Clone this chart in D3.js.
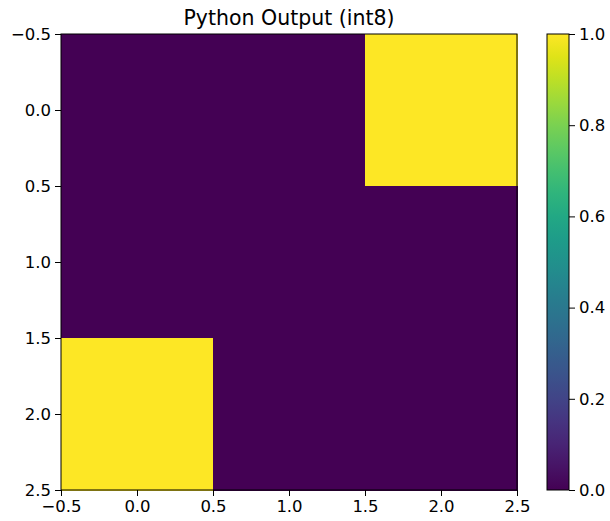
<!DOCTYPE html>
<html>
<head>
<meta charset="utf-8">
<script src="https://cdn.jsdelivr.net/npm/d3@7"></script>
<style>
  body { margin: 0; background: #fff; }
  text { font-family: "DejaVu Sans", sans-serif; fill: #000; }
</style>
</head>
<body>
<div id="chart"></div>
<script>
var width = 610;
var height = 521;

var title = "Python Output (int8)";

// image rows (top to bottom), columns left to right
var rows = [0, 1, 2];
var cols = [0, 1, 2];
var values = [
  [0, 0, 1],
  [0, 0, 0],
  [1, 0, 0]
];
var axisTicks = [-0.5, 0.0, 0.5, 1.0, 1.5, 2.0, 2.5];
var cbarTicks = [0.0, 0.2, 0.4, 0.6, 0.8, 1.0];

var plot = {left: 61, top: 34, size: 456};
var cbar = {left: 547, width: 22};

var svg = d3.select("#chart").append("svg")
  .attr("width", width)
  .attr("height", height);

var x = d3.scaleLinear().domain([-0.5, 2.5]).range([plot.left, plot.left + plot.size]);
var y = d3.scaleLinear().domain([-0.5, 2.5]).range([plot.top, plot.top + plot.size]);
var color = d3.scaleSequential(d3.interpolateViridis).domain([0, 1]);

var cells = [];
rows.forEach(function(r) {
  cols.forEach(function(c) {
    cells.push({row: r, col: c, value: values[r][c]});
  });
});

svg.selectAll(".cell")
  .data(cells)
  .enter().append("rect")
    .attr("class", "cell")
    .attr("x", function(d) { return x(d.col - 0.5); })
    .attr("y", function(d) { return y(d.row - 0.5); })
    .attr("width", function(d) { return x(d.col + 0.5) - x(d.col - 0.5) + 0.5; })
    .attr("height", function(d) { return y(d.row + 0.5) - y(d.row - 0.5) + 0.5; })
    .attr("fill", function(d) { return color(d.value); })
    .attr("shape-rendering", "crispEdges");

svg.append("rect")
  .attr("x", plot.left)
  .attr("y", plot.top)
  .attr("width", plot.size)
  .attr("height", plot.size)
  .attr("fill", "none")
  .attr("stroke", "#000")
  .attr("stroke-width", 1);

var fmt = function(d) { return d3.format(".1f")(d).replace("-", "\u2212"); };

var xAxis = svg.append("g")
  .attr("transform", "translate(0," + (plot.top + plot.size) + ")")
  .call(d3.axisBottom(x).tickValues(axisTicks).tickFormat(fmt).tickSize(6).tickPadding(4));
var yAxis = svg.append("g")
  .attr("transform", "translate(" + plot.left + ",0)")
  .call(d3.axisLeft(y).tickValues(axisTicks).tickFormat(fmt).tickSize(6).tickPadding(4));

[xAxis, yAxis].forEach(function(g) {
  g.select(".domain").remove();
  g.selectAll("text").style("font-size", "16.5px").attr("fill", "#000");
  g.selectAll("line").attr("stroke", "#000");
});

svg.append("text")
  .attr("x", plot.left + plot.size / 2)
  .attr("y", plot.top - 9)
  .attr("text-anchor", "middle")
  .style("font-size", "20.5px")
  .text(title);

// colorbar
var cy = d3.scaleLinear().domain([0, 1]).range([plot.top + plot.size, plot.top]);
var grad = svg.append("defs").append("linearGradient")
  .attr("id", "viridis")
  .attr("x1", "0").attr("y1", "1").attr("x2", "0").attr("y2", "0");
d3.range(0, 1.0001, 0.05).forEach(function(t) {
  grad.append("stop").attr("offset", t).attr("stop-color", color(t));
});

svg.append("rect")
  .attr("x", cbar.left)
  .attr("y", cy(1))
  .attr("width", cbar.width)
  .attr("height", cy(0) - cy(1))
  .attr("fill", "url(#viridis)")
  .attr("stroke", "#000")
  .attr("stroke-width", 1);

var cAxis = svg.append("g")
  .attr("transform", "translate(" + (cbar.left + cbar.width) + ",0)")
  .call(d3.axisRight(cy).tickValues(cbarTicks).tickFormat(fmt).tickSize(6).tickPadding(4));
cAxis.select(".domain").remove();
cAxis.selectAll("text").style("font-size", "16.5px").attr("fill", "#000");
cAxis.selectAll("line").attr("stroke", "#000");
</script>
</body>
</html>
